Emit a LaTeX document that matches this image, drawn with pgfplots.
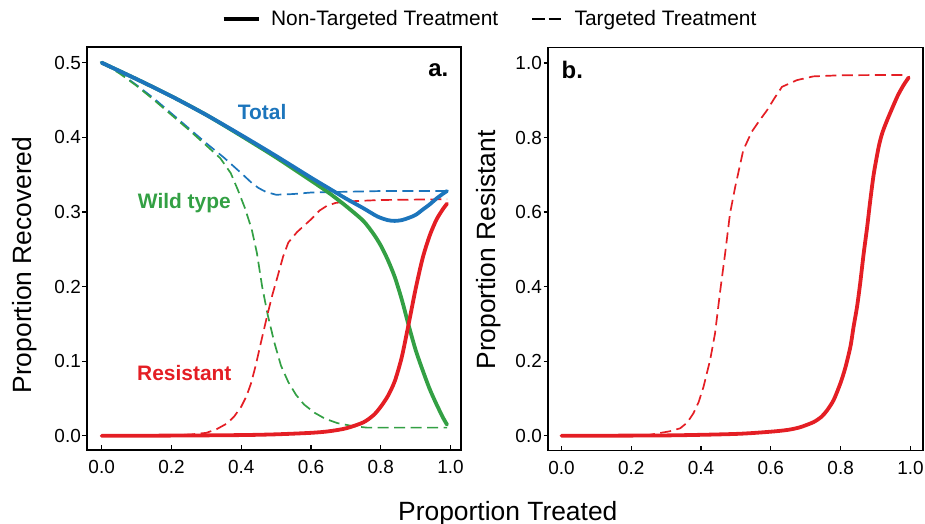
\documentclass[border=0pt]{standalone}
\usepackage{fontspec}
\setmainfont{Liberation Sans}
\usepackage{pgfplots}
\pgfplotsset{compat=1.18}
\definecolor{cblue}{RGB}{28,117,188}
\definecolor{cgreen}{RGB}{51,160,68}
\definecolor{cred}{RGB}{228,30,36}

\pgfplotsset{
  panel/.style={
    scale only axis, anchor=south west,
    axis line style={line width=1.5bp},
    tick pos=left, xtick align=inside, ytick align=outside,
    major tick length=4.5bp,
    tick style={line width=1.2bp, black},
    ticklabel style={font=\fontsize{19}{22}\selectfont},
    xticklabel style={yshift=-7bp},
    yticklabel style={inner xsep=1.5bp},
    /pgf/number format/assume math mode=true,
    /pgf/number format/.cd, fixed, fixed zerofill, precision=1,
  },
  solidl/.style={line width=3.8bp, line join=round, line cap=round, smooth, tension=0.45},
  dashl/.style={line width=1.7bp, dash pattern=on 11bp off 5.5bp},
}

\begin{document}
\begin{tikzpicture}
\useasboundingbox (0,0) rectangle (925bp,524bp);

% panel a: proportion recovered
\begin{axis}[panel, at={(87bp,74bp)}, width=374bp, height=403bp,
  xmin=-0.042, xmax=1.030, ymin=-0.019, ymax=0.521,
  xtick={0,0.2,0.4,0.6,0.8,1}, ytick={0,0.1,0.2,0.3,0.4,0.5},
  legend columns=2, legend cell align=left,
  legend style={at={(rel axis cs:0.3604,1.0695)}, anchor=west, draw=none,
    fill=none, inner xsep=0pt, inner ysep=0pt, nodes={inner sep=0pt},
    font=\fontsize{21}{24}\selectfont,
    /tikz/column 1/.style={column sep=10bp},
    /tikz/column 2/.style={column sep=33bp},
    /tikz/column 3/.style={column sep=13bp}},
]
  \addlegendimage{legend image code/.code={
    \draw[black, line width=3.5bp] (0bp,0bp) -- (35.6bp,0bp);}}
  \addlegendentry{Non-Targeted Treatment}
  \addlegendimage{legend image code/.code={
    \draw[black, line width=1.8bp, dash pattern=on 12.5bp off 4bp] (0bp,0bp) -- (28.6bp,0bp);}}
  \addlegendentry{Targeted Treatment}

  % targeted (dashed)
  \addplot[cblue, dashl] coordinates {(0,0.5)(0.05,0.487)(0.1,0.47)(0.15,0.452)
    (0.2,0.432)(0.25,0.412)(0.3,0.392)(0.35,0.373)(0.4,0.352)(0.43,0.339)
    (0.45,0.332)(0.47,0.327)(0.5,0.323)(0.55,0.324)(0.6,0.326)(0.7,0.327)
    (0.8,0.328)(0.99,0.328)};
  \addplot[cgreen, dashl] coordinates {(0,0.5)(0.05,0.486)(0.1,0.469)(0.15,0.45)
    (0.2,0.43)(0.25,0.41)(0.3,0.389)(0.34,0.372)(0.37,0.352)(0.39,0.33)
    (0.41,0.306)(0.43,0.277)(0.445,0.245)(0.46,0.2)(0.476,0.162)(0.495,0.125)
    (0.514,0.094)(0.535,0.072)(0.557,0.055)(0.58,0.042)(0.61,0.031)(0.64,0.023)
    (0.676,0.017)(0.72,0.013)(0.76,0.011)(0.99,0.011)};
  \addplot[cred, dashl] coordinates {(0,0)(0.2,0.0005)(0.26,0.002)(0.3,0.004)
    (0.33,0.009)(0.361,0.017)(0.38,0.026)(0.4,0.039)(0.415,0.053)(0.428,0.07)
    (0.442,0.095)(0.456,0.124)(0.476,0.164)(0.49,0.19)(0.504,0.213)(0.52,0.24)
    (0.535,0.259)(0.56,0.273)(0.6,0.29)(0.625,0.302)(0.645,0.308)(0.67,0.312)
    (0.7,0.314)(0.8,0.316)(0.99,0.317)};

  % non-targeted (solid)
  \addplot[cgreen, solidl] coordinates {(0,0.5)(0.1,0.478)(0.2,0.455)(0.3,0.43)
    (0.4,0.402)(0.5,0.373)(0.6,0.342)(0.65,0.326)(0.7,0.308)(0.75,0.288)
    (0.78,0.27)(0.8,0.255)(0.82,0.236)(0.84,0.213)(0.86,0.183)(0.88,0.148)
    (0.9,0.115)(0.92,0.088)(0.94,0.063)(0.96,0.042)(0.98,0.023)(0.99,0.015)};
  \addplot[cred, solidl] coordinates {(0,0)(0.2,0.0003)(0.4,0.001)(0.5,0.002)
    (0.6,0.004)(0.65,0.006)(0.7,0.01)(0.75,0.018)(0.78,0.028)(0.8,0.039)
    (0.82,0.053)(0.84,0.073)(0.86,0.105)(0.88,0.15)(0.9,0.197)(0.92,0.238)
    (0.94,0.268)(0.96,0.29)(0.98,0.305)(0.99,0.311)};
  \addplot[cblue, solidl] coordinates {(0,0.5)(0.1,0.478)(0.2,0.455)(0.3,0.43)
    (0.4,0.403)(0.5,0.375)(0.6,0.346)(0.65,0.332)(0.7,0.318)(0.75,0.305)
    (0.79,0.294)(0.82,0.289)(0.84,0.288)(0.86,0.289)(0.88,0.292)(0.9,0.296)
    (0.92,0.303)(0.94,0.31)(0.96,0.318)(0.98,0.325)(0.99,0.328)};

  \node[cblue, font=\fontsize{21}{24}\selectfont\bfseries] at (axis cs:0.46,0.434) {Total};
  \node[cgreen, font=\fontsize{21}{24}\selectfont\bfseries] at (axis cs:0.237,0.312) {Wild type};
  \node[cred, font=\fontsize{21}{24}\selectfont\bfseries] at (axis cs:0.237,0.0836) {Resistant};
  \node[anchor=east, inner sep=0pt, font=\fontsize{24}{28}\selectfont\bfseries] at (axis cs:0.994,0.49) {a.};
\end{axis}

% panel b: proportion resistant
\begin{axis}[panel, at={(548bp,73.3bp)}, width=375bp, height=403.4bp,
  xmin=-0.0385, xmax=1.036, ymin=-0.04, ymax=1.042,
  xtick={0,0.2,0.4,0.6,0.8,1}, ytick={0,0.2,0.4,0.6,0.8,1},
]
  \addplot[cred, dashl] coordinates {(0,0)(0.25,0.002)(0.273,0.006)(0.31,0.012)
    (0.34,0.02)(0.36,0.035)(0.378,0.06)(0.393,0.09)(0.407,0.131)(0.426,0.203)
    (0.44,0.274)(0.454,0.382)(0.469,0.489)(0.483,0.596)(0.498,0.668)(0.521,0.766)
    (0.545,0.815)(0.567,0.845)(0.589,0.873)(0.61,0.905)(0.632,0.936)(0.675,0.954)
    (0.722,0.964)(0.8,0.967)(0.99,0.968)};
  \addplot[cred, solidl] coordinates {(0,0)(0.3,0.001)(0.5,0.005)(0.6,0.011)
    (0.65,0.016)(0.684,0.023)(0.722,0.0365)(0.745,0.051)(0.761,0.068)(0.78,0.096)
    (0.799,0.14)(0.813,0.181)(0.828,0.239)(0.837,0.292)(0.847,0.346)(0.856,0.409)
    (0.866,0.489)(0.876,0.56)(0.885,0.632)(0.895,0.703)(0.909,0.775)(0.919,0.811)
    (0.933,0.846)(0.962,0.909)(0.98,0.94)(0.995,0.961)};
  \node[anchor=west, inner sep=0pt, font=\fontsize{24}{28}\selectfont\bfseries] at (axis cs:0,0.98) {b.};
\end{axis}

\node[rotate=90, anchor=base, font=\fontsize{26.5}{30}\selectfont] at (31.7bp,259bp) {Proportion Recovered};
\node[rotate=90, anchor=base, font=\fontsize{26.5}{30}\selectfont] at (495bp,274bp) {Proportion Resistant};
\node[anchor=base, font=\fontsize{26.5}{30}\selectfont] at (507.8bp,4bp) {Proportion Treated};
\end{tikzpicture}
\end{document}
